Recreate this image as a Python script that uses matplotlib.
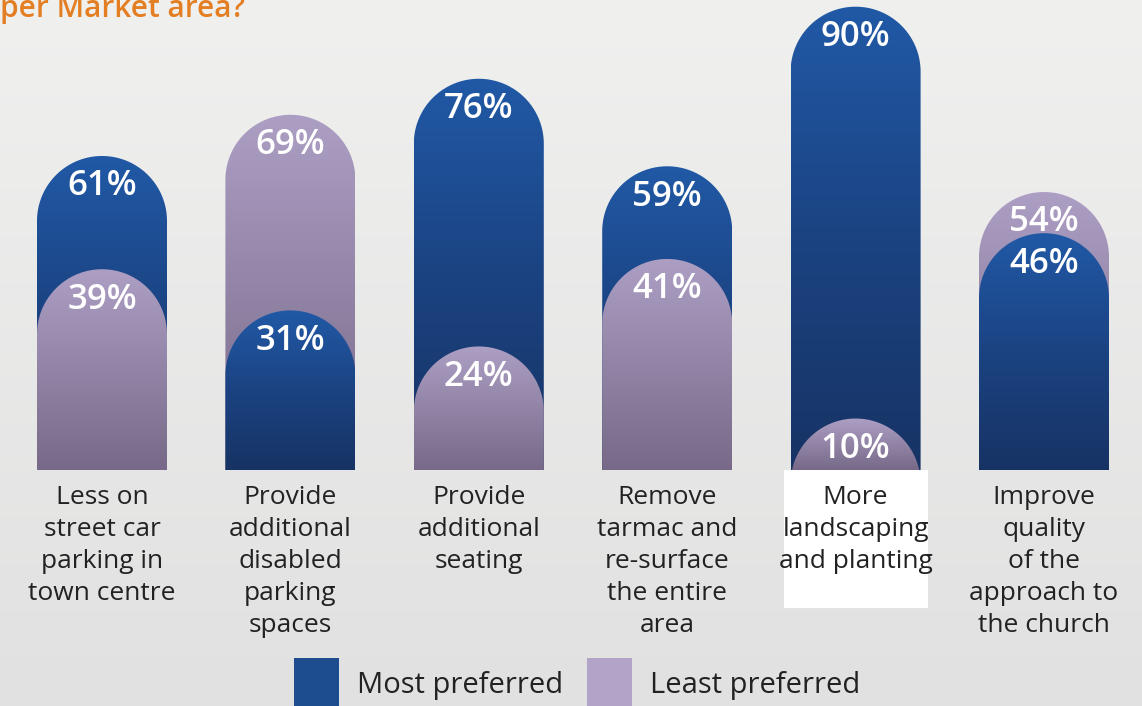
import matplotlib.pyplot as plt
import numpy as np
from matplotlib.colors import LinearSegmentedColormap
from matplotlib.patches import Patch, PathPatch, Rectangle
from matplotlib.path import Path

plt.rcParams["font.family"] = ["Open Sans", "DejaVu Sans"]

# data
categories = [
    "Less on\nstreet car\nparking in\ntown centre",
    "Provide\nadditional\ndisabled\nparking\nspaces",
    "Provide\nadditional\nseating",
    "Remove\ntarmac and\nre-surface\nthe entire\narea",
    "More\nlandscaping\nand planting",
    "Improve\nquality\nof the\napproach to\nthe church",
]
most_preferred = [61, 31, 76, 59, 90, 46]
least_preferred = [39, 69, 24, 41, 10, 54]
series_names = ["Most preferred", "Least preferred"]
title_tail = "per Market area?"
highlighted = 4  # category with the white box behind its label

BLUE = LinearSegmentedColormap.from_list("blue", ["#173364", "#1B4382", "#2159A6"])
LAVENDER = LinearSegmentedColormap.from_list("lav", ["#776987", "#AD9FC4"])
BG = LinearSegmentedColormap.from_list("bg", ["#E1E1E1", "#F0F0EF"])

W, H, DPI = 1142, 706, 100
fig = plt.figure(figsize=(W / DPI, H / DPI), dpi=DPI)

# background gradient
bg = fig.add_axes([0, 0, 1, 1], zorder=-10)
bg.imshow(np.linspace(0, 1, 256).reshape(-1, 1), cmap=BG, aspect="auto",
          origin="lower", extent=(0, 1, 0, 1))
bg.axis("off")

ax = fig.add_axes([7.8 / W, 236 / H, 6 * 188.4 / W, 470 / H])
ax.set_xlim(-0.5, len(categories) - 0.5)
ax.set_ylim(0, 91.3)
ax.set_autoscale_on(False)
ax.axis("off")

bar_w = 0.69
rx = bar_w / 2
# y radius so the cap is a true semicircle on screen
p0, p1 = ax.transData.transform([(0, 0), (1, 1)])
ry = rx * (p1[0] - p0[0]) / (p1[1] - p0[1])

grad = np.linspace(0, 1, 256).reshape(-1, 1)


def rounded_bar(x, v, cmap, z):
    base = v - ry
    th = np.linspace(np.pi, 0, 80)
    xs = np.concatenate([[x - rx], x + rx * np.cos(th), [x + rx]])
    ys = np.concatenate([[min(0, base) - 1], base + ry * np.sin(th), [min(0, base) - 1]])
    patch = PathPatch(Path(np.column_stack([xs, ys])), facecolor="none",
                      edgecolor="none", transform=ax.transData)
    ax.add_patch(patch)
    im = ax.imshow(grad, cmap=cmap, aspect="auto", origin="lower",
                   extent=(x - rx, x + rx, 0, v), zorder=z)
    im.set_clip_path(patch)
    ax.text(x, v - 5.9, f"{v}%", ha="center", va="center", color="white",
            fontsize=25, fontweight="semibold", zorder=z + 0.5)


for i, (m, l) in enumerate(zip(most_preferred, least_preferred)):
    bars = [(m, BLUE), (l, LAVENDER)]
    bars.sort(key=lambda b: -b[0])
    for k, (v, cmap) in enumerate(bars):
        rounded_bar(i, v, cmap, 2 + k)

    ax.text(i, -3.0, categories[i], ha="center", va="top", fontsize=19,
            color="#222222", linespacing=1.36, clip_on=False, zorder=6)

ax.add_patch(Rectangle((highlighted - 0.382, 0), 0.764, -26.8, facecolor="white",
                       edgecolor="none", clip_on=False, zorder=5))

fig.text(245 / W, 1 - 17 / H, title_tail, ha="right", va="baseline",
         color="#E47E22", fontsize=21.5, fontweight="semibold")

handles = [Patch(facecolor="#1E4D8F"), Patch(facecolor="#B1A4C8")]
fig.legend(handles=handles, labels=series_names, loc="upper center",
           bbox_to_anchor=(0.5057, 1 - 658 / H), ncol=2, frameon=False,
           fontsize=21, handlelength=1.54, handleheight=2.4, handletextpad=0.62,
           columnspacing=0.82, borderpad=0, borderaxespad=0, labelcolor="#222222")

fig.savefig("out.png", dpi=DPI)
